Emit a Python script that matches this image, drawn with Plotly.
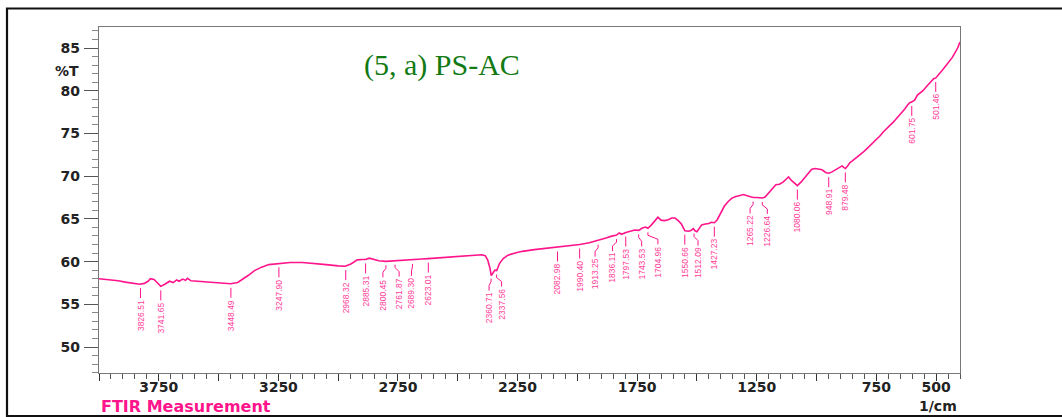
import numpy as np
import plotly.graph_objects as go

# FTIR spectrum of PS-AC: wavenumber (1/cm) and transmittance (%T)
wavenumber = [
    4000, 3960, 3920, 3890, 3870, 3850, 3830, 3810, 3795, 3785, 3770, 3755, 3742,
    3725, 3705, 3690, 3675, 3665, 3650, 3638, 3630, 3615, 3590, 3560, 3520, 3480,
    3450, 3420, 3400, 3375, 3350, 3320, 3290, 3250, 3200, 3150, 3100, 3050, 3000,
    2970, 2945, 2920, 2900, 2885, 2870, 2855, 2830, 2800, 2770, 2730, 2690, 2650,
    2623, 2580, 2520, 2460, 2400, 2385, 2375, 2365, 2360, 2352, 2345, 2337, 2325,
    2310, 2290, 2260, 2230, 2180, 2130, 2083, 2040, 1990, 1950, 1913, 1880, 1860,
    1836, 1825, 1815, 1797, 1780, 1760, 1743, 1730, 1715, 1705, 1690, 1675, 1663,
    1650, 1635, 1620, 1605, 1592, 1578, 1565, 1555, 1550, 1535, 1525, 1515, 1508,
    1500, 1490, 1480, 1465, 1450, 1440, 1427, 1415, 1405, 1395, 1385, 1370, 1355,
    1340, 1320, 1305, 1290, 1275, 1265, 1250, 1240, 1226, 1215, 1200, 1185, 1170,
    1155, 1140, 1125, 1117, 1105, 1090, 1080, 1065, 1050, 1035, 1020, 1005, 990,
    977, 960, 949, 935, 921, 905, 893, 885, 879, 870, 860, 850, 835, 820, 805,
    790, 775, 765, 750, 735, 720, 712, 700, 690, 680, 670, 660, 645, 630, 620,
    610, 601, 590, 578, 565, 555, 540, 525, 510, 501, 488, 474, 460, 445, 432,
    420, 410, 400,
]
transmittance = [
    58.00, 57.90, 57.75, 57.60, 57.50, 57.45, 57.35, 57.45, 57.70, 58.00, 57.90, 57.50, 57.10,
    57.35, 57.70, 57.55, 57.85, 57.70, 57.95, 57.80, 58.05, 57.75, 57.70, 57.65, 57.55, 57.50,
    57.40, 57.55, 57.90, 58.40, 58.95, 59.35, 59.65, 59.80, 59.90, 59.90, 59.80, 59.65, 59.50,
    59.45, 59.75, 60.20, 60.25, 60.25, 60.40, 60.30, 60.10, 60.03, 60.10, 60.15, 60.20, 60.30,
    60.35, 60.45, 60.55, 60.70, 60.80, 60.70, 60.20, 59.20, 58.35, 58.70, 59.00, 58.95, 59.80,
    60.35, 60.75, 61.00, 61.20, 61.40, 61.55, 61.65, 61.80, 62.00, 62.20, 62.45, 62.75, 62.95,
    63.10, 63.35, 63.20, 63.40, 63.55, 63.70, 63.65, 63.90, 64.05, 63.90, 64.30, 64.80, 65.20,
    64.85, 64.80, 64.90, 65.10, 65.10, 64.80, 64.40, 63.80, 63.60, 63.55, 63.65, 63.85, 63.60,
    63.50, 63.90, 64.30, 64.40, 64.45, 64.60, 64.55, 64.90, 65.40, 65.90, 66.50, 67.00, 67.40,
    67.60, 67.75, 67.85, 67.70, 67.60, 67.50, 67.50, 67.45, 67.45, 67.55, 68.00, 68.50, 69.00,
    69.05, 69.30, 69.70, 69.90, 69.50, 69.10, 68.90, 69.30, 69.80, 70.30, 70.80, 70.90, 70.85,
    70.75, 70.40, 70.35, 70.50, 70.70, 71.00, 71.20, 71.00, 70.90, 71.20, 71.60, 71.80, 72.10, 72.50, 72.80,
    73.20, 73.60, 73.90, 74.30, 74.70, 75.20, 75.40, 75.70, 76.00, 76.30, 76.60, 76.90, 77.40, 77.90, 78.30,
    78.60, 78.70, 78.90, 79.50, 79.80, 80.00, 80.50, 81.00, 81.40, 81.50, 81.90, 82.40, 82.90, 83.40, 83.90,
    84.50, 85.00, 85.70,
]

# Peak picks printed under the spectrum
peak_labels = [
    "3826.51", "3741.65", "3448.49", "3247.90", "2968.32", "2885.31", "2800.45",
    "2761.87", "2689.30", "2623.01", "2360.71", "2337.56", "2082.98", "1990.40",
    "1913.25", "1836.11", "1797.53", "1743.53", "1704.96", "1550.66", "1512.09",
    "1427.23", "1265.22", "1226.64", "1080.06", "948.91", "879.48", "601.75", "501.46",
]
# horizontal kink of each leader line (pixels, + = to the right)
leader_shift = [
    0, 0, 0, 0, 0, 0, -3,
    4, -1, 0, -2, 5, 0, 0,
    -3, -4, 0, 3, 10, 0, 4,
    0, -3, 5, 0, 0, 0, 0, 0,
]

x_ticks = [4000, 3750, 3500, 3250, 3000, 2750, 2500, 2250, 2000, 1750, 1500, 1250, 1000, 750, 500]
x_tick_text = ["", "3750", "", "3250", "", "2750", "", "2250", "", "1750", "", "1250", "", "750", "500"]
y_ticks = [50, 55, 60, 65, 70, 75, 80, 85]

PINK = "#ff148c"
LABEL_PINK = "#ff3d99"
W, H = 1062, 417
L, R, T, B = 99, 102, 27, 44
X_RANGE = [4000, 400]
Y_RANGE = [46.96, 87.46]

px_per_x = (W - L - R) / (X_RANGE[0] - X_RANGE[1])
px_per_y = (H - T - B) / (Y_RANGE[1] - Y_RANGE[0])

fig = go.Figure()
fig.add_trace(go.Scatter(
    x=wavenumber, y=transmittance, mode="lines",
    line=dict(color=PINK, width=1.6), hoverinfo="skip", showlegend=False,
))

# sort arrays for interpolation (wavenumber decreasing)
wn_sorted = np.array(wavenumber[::-1], dtype=float)
tr_sorted = np.array(transmittance[::-1], dtype=float)

lead_x, lead_y = [], []
for lab, shift in zip(peak_labels, leader_shift):
    wn = float(lab)
    t = float(np.interp(wn, wn_sorted, tr_sorted))
    wn_txt = wn - shift / px_per_x
    drop = 16 if shift else 14
    if shift:
        lead_x += [wn, wn, wn_txt, wn_txt, None]
        lead_y += [t - 4 / px_per_y, t - 7 / px_per_y, t - 11 / px_per_y, t - drop / px_per_y, None]
    else:
        lead_x += [wn, wn, None]
        lead_y += [t - 4 / px_per_y, t - drop / px_per_y, None]
    fig.add_annotation(
        x=wn_txt, y=t - drop / px_per_y, xref="x", yref="y",
        text=lab, textangle=-90, showarrow=False,
        xanchor="center", yanchor="top",
        font=dict(family="Liberation Sans Narrow, Arial Narrow, Liberation Sans, Arial",
                  size=8.5, color=LABEL_PINK),
    )

fig.add_trace(go.Scatter(
    x=lead_x, y=lead_y, mode="lines",
    line=dict(color=PINK, width=1), hoverinfo="skip", showlegend=False,
))

axis_font = dict(family="DejaVu Sans, Verdana, Arial", size=14, color="#222222", weight="bold")

fig.update_xaxes(
    range=X_RANGE, showgrid=False, zeroline=False,
    showline=True, linecolor="#777777", linewidth=1.2, mirror=True,
    tickmode="array", tickvals=x_ticks, ticktext=x_tick_text,
    ticks="outside", ticklen=7, tickwidth=1.2, tickcolor="#333333",
    ticklabelstandoff=-6,
    minor=dict(tickmode="linear", tick0=0, dtick=50, ticks="outside",
               ticklen=5, tickwidth=1, tickcolor="#555555"),
    tickfont=axis_font,
)
fig.update_yaxes(
    range=Y_RANGE, showgrid=False, zeroline=False,
    showline=True, linecolor="#777777", linewidth=1.2, mirror=True,
    tickmode="array", tickvals=y_ticks,
    ticks="outside", ticklen=14, tickwidth=1.2, tickcolor="#555555",
    ticklabelstandoff=1,
    minor=dict(tickmode="linear", tick0=0, dtick=1, ticks="outside",
               ticklen=6, tickwidth=1, tickcolor="#888888"),
    tickfont=axis_font,
)

pw, ph = W - L - R, H - T - B


def px_x(p):
    return (p - L) / pw


def px_y(p):
    return (H - B - p) / ph


# outer frame of the report page
fig.add_shape(type="rect", xref="paper", yref="paper",
              x0=px_x(7), x1=px_x(1080), y0=px_y(416), y1=px_y(8.5),
              line=dict(color="#111111", width=2.2), layer="above")

fig.add_annotation(xref="paper", yref="paper", x=px_x(81), y=px_y(71),
                   xanchor="right", yanchor="middle", showarrow=False,
                   text="%T", font=axis_font)
fig.add_annotation(xref="paper", yref="paper", x=px_x(99), y=px_y(406),
                   xanchor="left", yanchor="middle", showarrow=False,
                   text="FTIR Measurement",
                   font=dict(family="DejaVu Sans, Verdana, Arial", size=16,
                             color=PINK, weight="bold"))
fig.add_annotation(xref="paper", yref="paper", x=px_x(959), y=px_y(406),
                   xanchor="right", yanchor="middle", showarrow=False,
                   text="1/cm", font=axis_font)
fig.add_annotation(xref="paper", yref="paper", x=px_x(442), y=px_y(65),
                   xanchor="center", yanchor="middle", showarrow=False,
                   text="(5, a) PS-AC",
                   font=dict(family="Liberation Serif, Times New Roman, serif",
                             size=30, color="#127a12"))

fig.update_layout(
    width=W, height=H,
    margin=dict(l=L, r=R, t=T, b=B),
    paper_bgcolor="white", plot_bgcolor="white",
    showlegend=False,
)

fig.write_html("out.html")
